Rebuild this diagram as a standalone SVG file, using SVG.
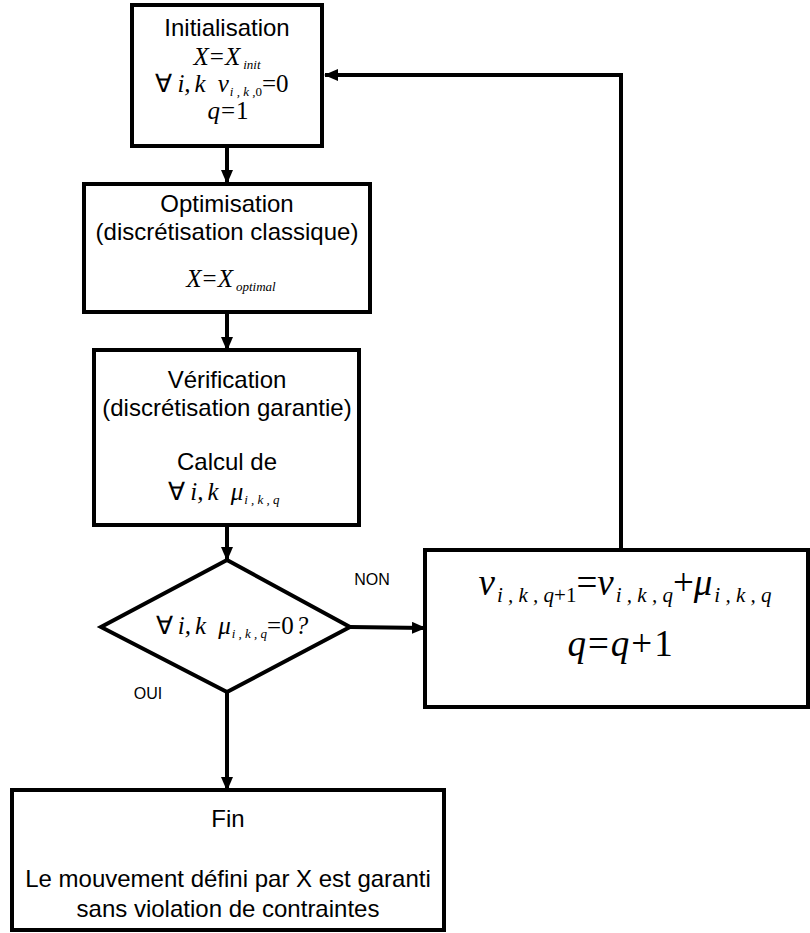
<svg xmlns="http://www.w3.org/2000/svg" width="810" height="933" viewBox="0 0 810 933">
<defs>
<marker id="ah" markerWidth="14" markerHeight="12" refX="13" refY="6" orient="auto" markerUnits="userSpaceOnUse">
<path d="M0,0 L14,6 L0,12 Z" fill="#000"/>
</marker>
<style>
.box{fill:#fff;stroke:#000;stroke-width:4}
.conn{fill:none;stroke:#000;stroke-width:4;marker-end:url(#ah)}
.t{font-family:"Liberation Sans",Arial,sans-serif;font-size:24px;fill:#000;text-anchor:middle}
.lbl{font-family:"Liberation Sans",Arial,sans-serif;font-size:16px;fill:#000;text-anchor:middle}
.m{font-family:"Liberation Serif","Times New Roman",serif;font-style:italic;font-size:25px;fill:#000;text-anchor:middle}
.up{font-style:normal}
.s{font-size:13px}
.big{font-size:37px}
.bs{font-size:21px}
</style>
</defs>
<rect width="810" height="933" fill="#fff"/>
<g id="connectors">
<line class="conn" x1="227" y1="147" x2="227" y2="183"/>
<line class="conn" x1="227" y1="313" x2="227" y2="350"/>
<line class="conn" x1="227" y1="525" x2="227" y2="560"/>
<line class="conn" x1="350" y1="627" x2="425" y2="628"/>
<polyline class="conn" points="621,550 621,75 325,75"/>
<line class="conn" x1="227" y1="692" x2="227" y2="790"/>
<text class="lbl" x="372" y="585">NON</text>
<text class="lbl" x="148" y="699">OUI</text>
</g>
<g id="init">
<rect class="box" x="132" y="5" width="190" height="141"/>
<text class="t" x="227" y="36">Initialisation</text>
<text class="m" x="227" y="65">X<tspan class="up" dx="1">=</tspan><tspan dx="1">X</tspan><tspan class="s" dx="3" dy="4">init</tspan></text>
<text class="m" x="222" y="92"><tspan class="up">∀</tspan><tspan dx="5">i</tspan>,<tspan dx="4">k</tspan><tspan dx="12">v</tspan><tspan class="s" dx="1" dy="4">i , k ,</tspan><tspan class="s up">0</tspan><tspan class="up" dy="-4">=0</tspan></text>
<text class="m" x="228" y="119">q<tspan class="up" dx="1">=</tspan><tspan class="up" dx="1">1</tspan></text>
</g>
<g id="optim">
<rect class="box" x="84" y="184" width="286" height="128"/>
<text class="t" x="227" y="212">Optimisation</text>
<text class="t" x="227" y="240">(discrétisation classique)</text>
<text class="m" x="231" y="287">X<tspan class="up" dx="1">=</tspan><tspan dx="1">X</tspan><tspan class="s" dx="3" dy="4">optimal</tspan></text>
</g>
<g id="verif">
<rect class="box" x="94" y="350" width="265" height="175"/>
<text class="t" x="227" y="388">Vérification</text>
<text class="t" x="227" y="416">(discrétisation garantie)</text>
<text class="t" x="227" y="470">Calcul de</text>
<text class="m" x="224" y="500"><tspan class="up">∀</tspan><tspan dx="5">i</tspan>,<tspan dx="4">k</tspan><tspan dx="12">μ</tspan><tspan class="s" dx="1" dy="4">i , k , q</tspan></text>
</g>
<g id="test">
<polygon class="box" points="227,560 350,627 227,692 101,627"/>
<text class="m" x="232" y="634"><tspan class="up">∀</tspan><tspan dx="5">i</tspan>,<tspan dx="4">k</tspan><tspan dx="12">μ</tspan><tspan class="s" dx="1" dy="4">i , k , q</tspan><tspan class="up" dy="-4">=0</tspan><tspan dx="2">?</tspan></text>
</g>
<g id="update">
<rect class="box" x="425" y="550" width="383" height="157"/>
<text class="m big" x="625" y="595">v<tspan class="bs" dx="2" dy="7">i , k , q</tspan><tspan class="bs up">+1</tspan><tspan class="up" dy="-7">=</tspan>v<tspan class="bs" dx="2" dy="7">i , k , q</tspan><tspan class="up" dy="-7">+</tspan>μ<tspan class="bs" dx="2" dy="7">i , k , q</tspan></text>
<text class="m big" x="620" y="656">q<tspan class="up" dx="2">=</tspan><tspan dx="2">q</tspan><tspan class="up" dx="2">+</tspan><tspan class="up" dx="2">1</tspan></text>
</g>
<g id="fin">
<rect class="box" x="12" y="790" width="432" height="140"/>
<text class="t" x="228" y="827">Fin</text>
<text class="t" x="228" y="887">Le mouvement défini par X est garanti</text>
<text class="t" x="228" y="917">sans violation de contraintes</text>
</g>
</svg>
